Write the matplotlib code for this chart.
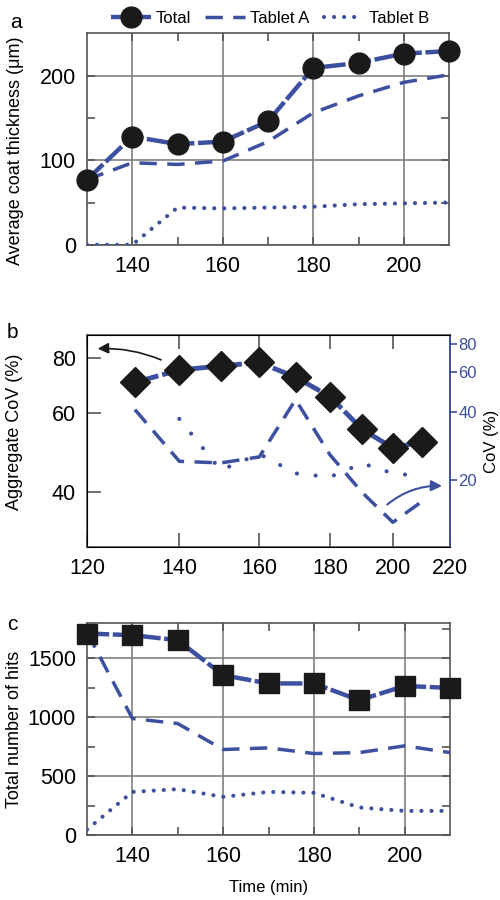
import matplotlib
matplotlib.use("Agg")
import matplotlib.pyplot as plt
from matplotlib.ticker import FixedLocator, NullLocator, FixedFormatter
import numpy as np

plt.rcParams['font.family'] = ['Liberation Sans', 'DejaVu Sans']

# ---- data ----
time = [130, 140, 150, 160, 170, 180, 190, 200, 210]

# (a) average coat thickness (um)
thick_total = [77, 128, 119, 122, 146, 209, 215, 226, 229]
thick_A = [77, 97, 95, 99, 122, 156, 176, 192, 201]
thick_B = [0, 0, 44, 43, 44, 45, 48, 49, 50]

# (b) coefficient of variation (%)
cov_total = [70.4, 75.0, 76.6, 78.0, 72.3, 65.4, 55.2, 50.1, 51.8]
cov_A = [40.9, 24.1, 23.7, 25.2, 45.3, 25.8, 17.5, 12.9, 16.0]
time_B = [140, 150, 160, 170, 180, 190, 200, 210]
cov_B = [37.2, 22.0, 26.0, 21.3, 20.5, 23.6, 21.3, 20.7]

# (c) total number of hits
hits_total = [1709, 1695, 1653, 1356, 1286, 1286, 1144, 1265, 1248]
hits_A = [1720, 989, 946, 726, 740, 692, 700, 757, 700]
hits_B = [48, 367, 390, 325, 367, 359, 235, 206, 206]

blue = '#3d4f9f'
gridc = '#808080'
spinec = '#555555'
total_ls = (0, (5, 0.8))
a_ls = (0, (5, 3))
b_ls = (0, (0.01, 2.4))
tick_fs = 15.5
lab_fs = 13

fig = plt.figure(figsize=(5, 9), dpi=100)
axA = fig.add_axes([0.174, 0.728, 0.724, 0.235])
axB = fig.add_axes([0.174, 0.392, 0.726, 0.236])
axC = fig.add_axes([0.174, 0.072, 0.726, 0.236])


def style_box(ax):
    for s in ax.spines.values():
        s.set_color(spinec)
        s.set_linewidth(1.2)
    ax.tick_params(which='both', direction='in', top=True, right=True,
                   length=6, width=1.2, color=spinec, labelsize=tick_fs, pad=8)


# ---- panel a ----
axA.plot(time, thick_total, color=blue, lw=3.2, ls=total_ls, marker='o',
         ms=15, mfc='#1a1a1a', mec='#1a1a1a', label='Total', clip_on=False, zorder=4)
axA.plot(time, thick_A, color=blue, lw=2.5, ls=a_ls, label='Tablet A', zorder=3)
axA.plot(time, thick_B, color=blue, lw=3, ls=b_ls, dash_capstyle='round',
         label='Tablet B', zorder=3)
axA.set_xlim(130, 210)
axA.set_ylim(0, 250)
axA.set_xticks([140, 160, 180, 200])
axA.set_xticks([150, 170, 190], minor=True)
axA.set_yticks([0, 100, 200])
axA.set_yticks([50, 150], minor=True)
axA.grid(True, which='major', color=gridc, lw=1.2)
axA.set_axisbelow(True)
style_box(axA)
axA.set_ylabel('Average coat thickness (\u03bcm)', fontsize=lab_fs)
axA.yaxis.set_label_coords(-0.175, 0.443)

fig.legend(loc='upper center', bbox_to_anchor=(0.54, 1.005), ncol=3, frameon=False,
           fontsize=12, handlelength=2.4, columnspacing=0.85, handletextpad=0.3)

# ---- panel b ----
axB.plot(time, cov_total, color=blue, lw=3.5, ls=total_ls, marker='D',
         ms=15, mfc='#1a1a1a', mec='#1a1a1a', zorder=4)
axB.set_xscale('log')
axB.set_yscale('log')
axB.set_xlim(120, 220)
axB.set_ylim(30, 90)
axB.xaxis.set_major_locator(FixedLocator([120, 140, 160, 180, 200, 220]))
axB.xaxis.set_major_formatter(FixedFormatter(['120', '140', '160', '180', '200', '220']))
axB.xaxis.set_minor_locator(NullLocator())
axB.yaxis.set_major_locator(FixedLocator([40, 60, 80]))
axB.yaxis.set_major_formatter(FixedFormatter(['40', '60', '80']))
axB.yaxis.set_minor_locator(NullLocator())
for s in axB.spines.values():
    s.set_color(spinec)
    s.set_linewidth(1.2)
axB.tick_params(which='both', direction='in', top=True, right=False,
                length=10, width=1.2, color=spinec, labelsize=tick_fs, pad=8)
axB.set_ylabel('Aggregate CoV (%)', fontsize=lab_fs)
axB.yaxis.set_label_coords(-0.175, 0.542)

axB2 = axB.twinx()
axB2.set_yscale('log')
axB2.set_ylim(10, 88)
axB2.plot(time, cov_A, color=blue, lw=2.5, ls=a_ls, zorder=3)
axB2.plot(time_B, cov_B, color=blue, lw=3, ls=(0, (0.01, 4.5)),
          dash_capstyle='round', zorder=3)
axB2.yaxis.set_major_locator(FixedLocator([20, 40, 60, 80]))
axB2.yaxis.set_major_formatter(FixedFormatter(['20', '40', '60', '80']))
axB2.yaxis.set_minor_locator(NullLocator())
axB2.spines['right'].set_color(blue)
axB2.spines['right'].set_linewidth(1.2)
axB2.tick_params(axis='y', which='both', direction='out', length=5, width=1.2,
                 color=blue, labelcolor=blue, labelsize=12, pad=1)
axB2.set_ylabel('CoV (%)', fontsize=12, labelpad=5)

axB.annotate('', xy=(121.6, 83.7), xytext=(136.4, 78.6),
             arrowprops=dict(arrowstyle='-|>', color='#1a1a1a', lw=1.2,
                             connectionstyle='arc3,rad=0.12', mutation_scale=16))
axB2.annotate('', xy=(218.1, 18.7), xytext=(197.4, 15.2),
              arrowprops=dict(arrowstyle='-|>', color=blue, lw=1.5,
                              connectionstyle='arc3,rad=-0.2', mutation_scale=16))

# ---- panel c ----
axC.plot(time, hits_total, color=blue, lw=3.2, ls=total_ls, marker='s',
         ms=14, mfc='#1a1a1a', mec='#1a1a1a', clip_on=False, zorder=4)
axC.plot(time, hits_A, color=blue, lw=2.5, ls=a_ls, zorder=3)
axC.plot(time, hits_B, color=blue, lw=3, ls=b_ls, dash_capstyle='round', zorder=3)
axC.set_xlim(130, 210)
axC.set_ylim(0, 1800)
axC.set_xticks([140, 160, 180, 200])
axC.set_xticks([150, 170, 190], minor=True)
axC.set_yticks([0, 500, 1000, 1500])
axC.set_yticks([250, 750, 1250, 1750], minor=True)
axC.grid(True, which='major', color=gridc, lw=1.2)
axC.set_axisbelow(True)
style_box(axC)
axC.set_ylabel('Total number of hits', fontsize=lab_fs)
axC.yaxis.set_label_coords(-0.175, 0.5)
axC.set_xlabel('Time (min)', fontsize=12, labelpad=9)

fig.text(0.02, 0.975, 'a', fontsize=15, ha='left', va='center')
fig.text(0.014, 0.631, 'b', fontsize=15, ha='left', va='center')
fig.text(0.014, 0.306, 'c', fontsize=15, ha='left', va='center')

fig.savefig('out.png', dpi=100)
